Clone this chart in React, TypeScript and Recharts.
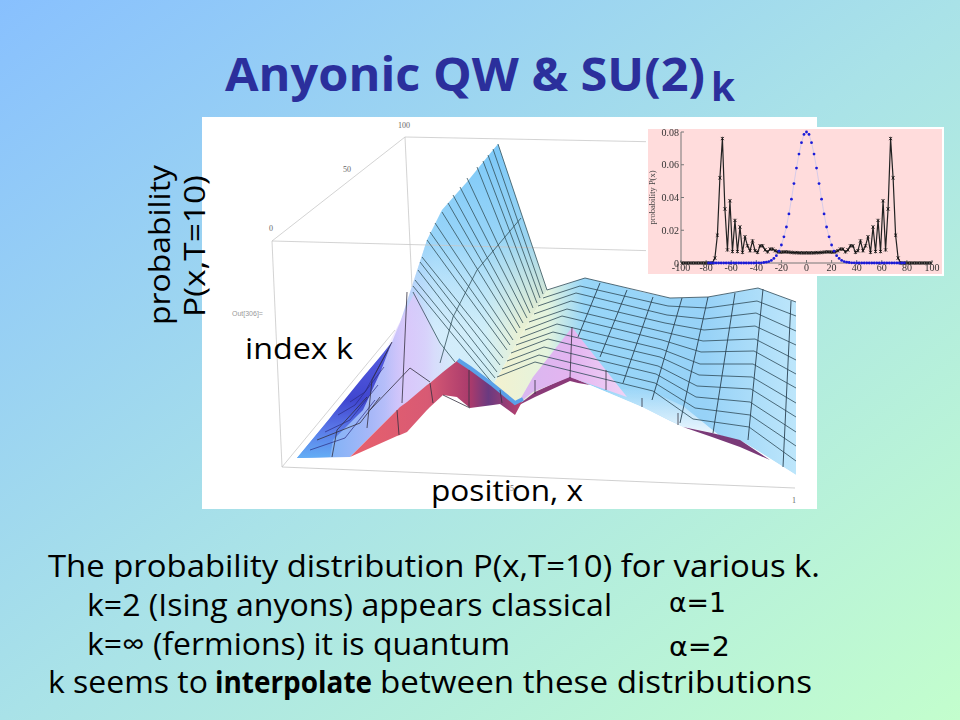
import React from 'react';
import { ComposedChart, LineChart, Area, Line, XAxis, YAxis } from 'recharts';

// inset: P(x) at T=10
const fermionX = [
  -99, -97, -95, -93, -91, -89, -87, -85, -83, -81, -79, -77, -75, -73, -71, -69, -67, -65, -63, -61, -59, -57, -55, -53, -51,
  -49, -47, -45, -43, -41, -39, -37, -35, -33, -31, -29, -27, -25, -23, -21, -19, -17, -15, -13, -11, -9, -7, -5, -3, -1,
  1, 3, 5, 7, 9, 11, 13, 15, 17, 19, 21, 23, 25, 27, 29, 31, 33, 35, 37, 39, 41, 43, 45, 47, 49,
  51, 53, 55, 57, 59, 61, 63, 65, 67, 69, 71, 73, 75, 77, 79, 81, 83, 85, 87, 89, 91, 93, 95, 97, 99,
];
const fermionP = [
  0, 0, 0, 0, 0, 0, 0, 0, 0, 0, 0, 0, 0, 0.003, 0.017, 0.052, 0.076, 0.033, 0.008, 0.038, 0.007, 0.026, 0.007, 0.022, 0.0065,
  0.016, 0.0105, 0.0075, 0.0135, 0.0075, 0.0065, 0.0105, 0.0105, 0.008, 0.0068, 0.0085, 0.0085, 0.0075, 0.0068, 0.0066, 0.0067, 0.0068, 0.0067, 0.0065, 0.0064, 0.0063, 0.0063, 0.0062, 0.0062, 0.0062,
  0.0062, 0.0062, 0.0062, 0.0063, 0.0063, 0.0064, 0.0065, 0.0067, 0.0068, 0.0067, 0.0066, 0.0068, 0.0075, 0.0085, 0.0085, 0.0068, 0.008, 0.0105, 0.0105, 0.0065, 0.0075, 0.0135, 0.0075, 0.0105, 0.016,
  0.0065, 0.022, 0.007, 0.026, 0.007, 0.038, 0.008, 0.033, 0.076, 0.052, 0.017, 0.003, 0, 0, 0, 0, 0, 0, 0, 0, 0, 0, 0, 0, 0,
];
const isingX = [
  -78, -76, -74, -72, -70, -68, -66, -64, -62, -60, -58, -56, -54, -52, -50, -48, -46, -44, -42, -40,
  -38, -36, -34, -32, -30, -28, -26, -24, -22, -20, -18, -16, -14, -12, -10, -8, -6, -4, -2, 0,
  2, 4, 6, 8, 10, 12, 14, 16, 18, 20, 22, 24, 26, 28, 30, 32, 34, 36, 38,
  40, 42, 44, 46, 48, 50, 52, 54, 56, 58, 60, 62, 64, 66, 68, 70, 72, 74, 76, 78,
];
const isingP = [
  0, 0, 0, 0, 0, 0, 0, 0, 0, 0, 0, 0, 0, 0, 0, 0, 0, 0, 0, 0,
  0.0001, 0.0001, 0.0003, 0.0005, 0.0009, 0.0016, 0.0028, 0.0045, 0.0072, 0.011, 0.016, 0.022, 0.03, 0.039, 0.0485, 0.058, 0.0665, 0.0735, 0.0785, 0.08,
  0.0785, 0.0735, 0.0665, 0.058, 0.0485, 0.039, 0.03, 0.022, 0.016, 0.011, 0.0072, 0.0045, 0.0028, 0.0016, 0.0009, 0.0005, 0.0003, 0.0001, 0.0001,
  0, 0, 0, 0, 0, 0, 0, 0, 0, 0, 0, 0, 0, 0, 0, 0, 0, 0, 0, 0,
];
const xTicks = [-100, -80, -60, -40, -20, 0, 20, 40, 60, 80, 100];
const yTicks = [0, 0.02, 0.04, 0.06, 0.08];

// 3d surface, outlines as projected on the picture: x, upper edge, lower edge
const plateauX = [493, 515, 535, 547, 570, 578, 585, 623, 642, 670, 683, 708, 743, 758, 796];
const plateauTop = [385, 346, 311, 290, 283, 280, 278, 287, 292, 298, 298, 297, 291, 288, 302];
const plateauFront = [385, 408, 395, 389, 378, 380, 383, 399, 407, 421, 427, 432, 442, 451, 475];
const maskBottom = [486, 486, 486, 486, 486, 486, 486, 486, 486, 486, 486, 486, 486, 486, 486];

const mountainX = [297, 350, 392, 397, 400, 413, 427, 430, 442, 458, 467, 493, 498, 547];
const mountainTop = [458, 394, 342, 330, 323, 283, 240, 234, 210, 192, 182, 150, 144, 290];
const mountainBase = [458, 457, 415, 410, 408, 398, 385, 383, 374, 362, 368, 385, 376, 290];

const flankX = [297, 330, 333, 363, 380, 392];
const flankTop = [458, 418, 414, 377, 357, 342];
const flankBase = [458, 457, 440, 410, 373, 342];

const faceX = [385, 400, 415, 440, 455];
const faceTop = [350, 322, 292, 345, 362];
const faceBase = [418, 408, 396, 375, 364];

const redX = [350, 397, 400, 407, 427, 430, 443, 457, 458, 470, 493, 500, 515, 523];
const redTop = [457, 410, 407, 402, 385, 383, 372, 361, 360, 368, 385, 391, 403, 400];
const redBase = [457, 436, 435, 432, 410, 407, 395, 397, 398, 408, 405, 404, 415, 400];

const peakX = [517, 533, 570, 572, 578, 627];
const peakTop = [405, 377, 330, 327, 335, 397];
const peakBase = [405, 392, 377, 378, 380, 397];

const peakShadowX = [517, 535, 570, 578, 590];
const peakShadowTop = [406, 392, 376, 380, 385];
const peakShadowBase = [406, 397, 381, 383, 385];

const rimX = [683, 712, 740, 770];
const rimTop = [427, 433, 440, 460];
const rimBase = [427, 437, 447, 460];

const glowX = [606, 640, 683, 720];
const glowTop = [392, 386, 406, 436];
const glowBase = [392, 406, 427, 436];

// mesh lines on the surface
const ridgeMesh = [
  [[498, 144], [547, 290]], [[493, 149], [543, 294]], [[488, 155], [540, 298]], [[483, 161], [537, 303]],
  [[477, 167], [533, 308]], [[467, 178], [530, 313]], [[460, 187], [527, 318]], [[453, 195], [523, 323]],
  [[448, 203], [520, 328]], [[442, 212], [517, 333]], [[435, 223], [513, 340]], [[430, 232], [510, 345]],
  [[427, 240], [507, 350]], [[422, 257], [503, 358]], [[420, 262], [500, 365]], [[418, 270], [497, 372]],
  [[415, 280], [495, 378]], [[413, 286], [493, 384]],
  [[413, 292], [440, 343], [455, 362]],
  [[521, 218], [477, 270], [453, 317], [440, 363]],
];
const flankMesh = [
  [[310, 450], [345, 438], [375, 400]], [[325, 432], [350, 420], [378, 385]],
  [[338, 415], [355, 405], [384, 367]], [[350, 402], [365, 392], [388, 350]],
];
const plateauRows = [
  [[547, 290], [585, 278], [670, 298], [708, 297], [758, 288], [796, 302]],
  [[543, 298], [580, 286], [668, 306], [707, 308], [757, 301], [796, 316]],
  [[538, 306], [576, 293], [667, 315], [705, 319], [756, 313], [796, 331]],
  [[534, 314], [571, 301], [665, 323], [704, 330], [755, 326], [796, 345]],
  [[529, 322], [567, 309], [664, 332], [703, 341], [755, 339], [796, 360]],
  [[525, 330], [562, 316], [662, 340], [701, 352], [754, 351], [796, 374]],
  [[520, 338], [557, 324], [661, 349], [700, 364], [753, 364], [796, 388]],
  [[516, 345], [553, 332], [660, 357], [699, 375], [752, 377], [796, 403]],
  [[511, 353], [548, 339], [658, 366], [697, 386], [751, 389], [796, 417]],
  [[507, 361], [544, 347], [656, 374], [696, 397], [750, 402], [796, 432]],
  [[502, 369], [539, 355], [655, 383], [695, 408], [750, 415], [796, 446]],
  [[497, 377], [535, 362], [653, 391], [693, 419], [749, 427], [796, 461]],
];
const plateauColumns = [
  [[600, 283], [578, 337]], [[627, 290], [600, 357]], [[653, 297], [623, 383]], [[682, 298], [652, 400]],
  [[708, 297], [680, 423]], [[735, 293], [713, 433]], [[763, 289], [748, 440]], [[791, 301], [783, 467]],
];
const frontMesh = [
  [[407, 292], [402, 403]], [[332, 457], [337, 430], [367, 397]], [[367, 428], [372, 380], [392, 342]],
  [[397, 410], [399, 435]], [[430, 383], [433, 403]], [[469, 370], [469, 407]], [[500, 390], [502, 403]],
  [[370, 410], [410, 368], [430, 382]], [[317, 440], [360, 423], [380, 397]], [[443, 395], [470, 408]],
  [[572, 327], [570, 378]], [[535, 380], [535, 394]], [[606, 370], [606, 390]], [[642, 398], [642, 407]], [[678, 413], [678, 425]],
];
const backBox = [
  [[272, 241], [405, 137]], [[405, 137], [817, 145]], [[272, 241], [817, 255]],
  [[272, 241], [282, 467]], [[405, 137], [412, 287]], [[282, 467], [395, 330]],
];
const frontBox = [[[282, 467], [795, 488]]];

const texts = [
  { t: 'Anyonic QW & SU(2)', x: 225, y: 91, len: 480, size: 46, weight: 700, fill: '#2b2f9c' },
  { t: 'k', x: 711, y: 101, len: 24, size: 40, weight: 700, fill: '#2b2f9c' },
  { t: 'index k', x: 245, y: 359, len: 108, size: 29 },
  { t: 'position, x', x: 431, y: 501, len: 152, size: 29 },
  { t: 'The probability distribution P(x,T=10) for various k.', x: 48, y: 577, len: 772, size: 31 },
  { t: 'k=2 (Ising anyons) appears classical', x: 87, y: 616, len: 525, size: 31 },
  { t: 'k=\u221e (fermions) it is quantum', x: 87, y: 655, len: 423, size: 31 },
  { t: 'k seems to', x: 48, y: 693, len: 160, size: 31 },
  { t: 'interpolate', x: 215, y: 693, len: 157, size: 31, weight: 700 },
  { t: 'between these distributions', x: 380, y: 693, len: 432, size: 31 },
];
const alphaTexts = [
  { t: '\u03b1=1', x: 669, y: 612, len: 57 },
  { t: '\u03b1=2', x: 669, y: 656, len: 61 },
];
const tinyTexts = [
  { t: '100', x: 398, y: 128 }, { t: '50', x: 343, y: 172 }, { t: '0', x: 269, y: 231 },
  { t: '5', x: 510, y: 491 }, { t: '1', x: 792, y: 503 },
];

const band = (xs: number[], top: number[], base: number[]) => xs.map((x, i) => ({ x, band: [top[i], base[i]] }));
const path = (pts: number[][]) => pts.map(([x, y]) => ({ x, y }));
const series = (xs: number[], ys: number[]) => xs.map((x, i) => ({ x, p: ys[i] }));

const fermionData = series(fermionX, fermionP);
const isingData = series(isingX, isingP);

function Star(props: any) {
  const { cx, cy, index } = props;
  if (cx == null || cy == null) return null;
  return (
    <path key={index} d={`M${cx - 1.6} ${cy - 1.6}L${cx + 1.6} ${cy + 1.6}M${cx - 1.6} ${cy + 1.6}L${cx + 1.6} ${cy - 1.6}M${cx} ${cy - 1.8}V${cy + 1.8}`}
      stroke="#111" strokeWidth={0.8} fill="none" />
  );
}

function Mesh({ lines, color, width, id }: { lines: number[][][], color: string, width: number, id: string }) {
  return (
    <>
      {lines.map((l, i) => (
        <Line key={id + i} data={path(l)} dataKey="y" stroke={color} strokeWidth={width} dot={false} isAnimationActive={false} />
      ))}
    </>
  );
}

function Surface() {
  return (
    <ComposedChart width={615} height={392} margin={{ top: 0, right: 0, bottom: 0, left: 0 }}>
      <defs>
        <linearGradient id="plateauFill" x1="0" y1="0" x2="1" y2="0">
          <stop offset="0" stopColor="#f3f1cf" />
          <stop offset="0.18" stopColor="#e4f4de" />
          <stop offset="0.3" stopColor="#98d6f8" />
          <stop offset="0.7" stopColor="#97d2f7" />
          <stop offset="1" stopColor="#bde6fb" />
        </linearGradient>
        <linearGradient id="mountainFill" x1="0" y1="0" x2="1" y2="0">
          <stop offset="0" stopColor="#5b9cf3" />
          <stop offset="0.12" stopColor="#7fb2f6" />
          <stop offset="0.3" stopColor="#a8b8f8" />
          <stop offset="0.42" stopColor="#c9c6fb" />
          <stop offset="0.55" stopColor="#d4ecfc" />
          <stop offset="0.75" stopColor="#d0eef8" />
          <stop offset="0.9" stopColor="#ebf1d2" />
          <stop offset="1" stopColor="#f3efc4" />
        </linearGradient>
        <linearGradient id="mountainSky" x1="0" y1="0" x2="0" y2="1">
          <stop offset="0" stopColor="#7cc8f8" stopOpacity={1} />
          <stop offset="0.3" stopColor="#8dd0f8" stopOpacity={0.85} />
          <stop offset="0.6" stopColor="#a8dcf8" stopOpacity={0} />
        </linearGradient>
        <linearGradient id="faceFill" x1="0" y1="0" x2="1" y2="0">
          <stop offset="0" stopColor="#cfc0fa" stopOpacity={0} />
          <stop offset="0.3" stopColor="#dcc8fa" stopOpacity={0.85} />
          <stop offset="0.6" stopColor="#dcc8fa" stopOpacity={0.6} />
          <stop offset="1" stopColor="#dcc8fa" stopOpacity={0} />
        </linearGradient>
        <linearGradient id="flankFill" x1="0" y1="0" x2="0" y2="1">
          <stop offset="0" stopColor="#5860e0" />
          <stop offset="0.5" stopColor="#4046d0" />
          <stop offset="0.75" stopColor="#5a78e8" />
          <stop offset="1" stopColor="#64aef5" />
        </linearGradient>
        <linearGradient id="glowFill" x1="0" y1="0" x2="0" y2="1">
          <stop offset="0" stopColor="#ffffff" stopOpacity={0} />
          <stop offset="1" stopColor="#ffffff" stopOpacity={0.85} />
        </linearGradient>
        <linearGradient id="redFill" x1="0" y1="0" x2="1" y2="0">
          <stop offset="0" stopColor="#e8606c" />
          <stop offset="0.45" stopColor="#d85a74" />
          <stop offset="0.7" stopColor="#a83a6c" />
          <stop offset="0.8" stopColor="#6a3a80" />
          <stop offset="1" stopColor="#c0406c" />
        </linearGradient>
        <linearGradient id="peakFill" x1="0" y1="0" x2="1" y2="0">
          <stop offset="0" stopColor="#d8b8f0" />
          <stop offset="0.5" stopColor="#e4b4f0" />
          <stop offset="1" stopColor="#f0d4f6" />
        </linearGradient>
      </defs>
      <XAxis type="number" dataKey="x" domain={[202, 817]} hide allowDataOverflow />
      <YAxis type="number" domain={[117, 509]} reversed hide allowDataOverflow />

      <Mesh lines={backBox} color="#c8c8c8" width={0.8} id="back" />

      <Area data={band(plateauX, plateauTop, plateauFront)} dataKey="band" fill="url(#plateauFill)" fillOpacity={1} stroke="none" isAnimationActive={false} />
      <Mesh lines={plateauRows} color="#2f4a58" width={0.8} id="row" />
      <Mesh lines={plateauColumns} color="#2a4252" width={0.9} id="col" />
      <Area data={band(glowX, glowTop, glowBase)} dataKey="band" fill="url(#glowFill)" fillOpacity={1} stroke="none" isAnimationActive={false} />
      <Area data={band(plateauX, plateauFront, maskBottom)} dataKey="band" fill="#ffffff" fillOpacity={1} stroke="none" isAnimationActive={false} />
      <Area data={band(rimX, rimTop, rimBase)} dataKey="band" fill="#7a3a78" fillOpacity={1} stroke="none" isAnimationActive={false} />

      <Area data={band(peakShadowX, peakShadowTop, peakShadowBase)} dataKey="band" fill="#8a3a78" fillOpacity={1} stroke="none" isAnimationActive={false} />
      <Area data={band(peakX, peakTop, peakBase)} dataKey="band" fill="url(#peakFill)" fillOpacity={1} stroke="none" isAnimationActive={false} />

      <Area data={band(mountainX, mountainTop, mountainBase)} dataKey="band" fill="url(#mountainFill)" fillOpacity={1} stroke="none" isAnimationActive={false} />
      <Area data={band(mountainX, mountainTop, mountainBase)} dataKey="band" fill="url(#mountainSky)" fillOpacity={1} stroke="none" isAnimationActive={false} />
      <Area data={band(faceX, faceTop, faceBase)} dataKey="band" fill="url(#faceFill)" fillOpacity={1} stroke="none" isAnimationActive={false} />
      <Area data={band(flankX, flankTop, flankBase)} dataKey="band" fill="url(#flankFill)" fillOpacity={1} stroke="none" isAnimationActive={false} />
      <Mesh lines={flankMesh} color="#2a2a80" width={0.7} id="flank" />
      <Mesh lines={ridgeMesh} color="#33505a" width={0.8} id="ridge" />

      <Area data={band(redX, redTop, redBase)} dataKey="band" fill="url(#redFill)" fillOpacity={1} stroke="none" isAnimationActive={false} />
      <Line data={path([[458, 360], [470, 368], [493, 385], [515, 403], [523, 399]])} dataKey="y" stroke="#5aa0e8" strokeWidth={4} dot={false} isAnimationActive={false} />
      <Mesh lines={frontMesh} color="#33303f" width={0.8} id="front" />
      <Mesh lines={frontBox} color="#c4c4c4" width={0.8} id="frontBox" />
    </ComposedChart>
  );
}

function Inset() {
  const axisStyle = { fontFamily: 'Liberation Serif', fontSize: 10, fill: '#333' };
  return (
    <LineChart width={294} height={149} margin={{ top: 7, right: 10, bottom: 0, left: 0 }}>
      <XAxis type="number" dataKey="x" domain={[-100, 100]} ticks={xTicks} interval={0} height={11}
        tick={axisStyle} tickSize={-3} tickMargin={4} stroke="#777" />
      <XAxis xAxisId="frame" orientation="top" type="number" domain={[-100, 100]} ticks={xTicks} interval={0} height={0}
        tickFormatter={() => ''} tickSize={-3} stroke="#777" />
      <YAxis type="number" domain={[0, 0.08]} ticks={yTicks} interval={0} width={33}
        tick={axisStyle} tickSize={-3} tickMargin={5} stroke="#777"
        label={{ value: 'probability P(x)', angle: -90, position: 'insideLeft', offset: 0, dx: 4, style: { fontFamily: 'Liberation Serif', fontSize: 8.5, fill: '#444', textAnchor: 'middle' } }} />
      <YAxis yAxisId="frame" orientation="right" type="number" domain={[0, 0.08]} ticks={yTicks} interval={0} width={0}
        tickFormatter={() => ''} tickSize={-3} stroke="#777" />
      <Line data={fermionData} dataKey="p" stroke="#222" strokeWidth={1.2} dot={Star} isAnimationActive={false} />
      <Line data={isingData} dataKey="p" stroke="#c4c4ee" strokeWidth={0.7}
        dot={{ r: 1.4, fill: '#1a1ad8', stroke: 'none' }} isAnimationActive={false} />
    </LineChart>
  );
}

export default function App() {
  return (
    <div style={{
      position: 'absolute', left: 0, top: 0, width: 960, height: 720, overflow: 'hidden',
      background: 'linear-gradient(to bottom right, #88c0fe 0%, #a9e2e8 50%, #c3fecd 100%)',
    }}>
      <div style={{ position: 'absolute', left: 202, top: 117, width: 615, height: 392, background: '#fff' }}>
        <Surface />
      </div>
      <svg width={960} height={720} style={{ position: 'absolute', left: 0, top: 0 }}>
        {tinyTexts.map((d) => (
          <text key={d.t} x={d.x} y={d.y} fontFamily="Liberation Serif" fontSize={8} fill="#666">{d.t}</text>
        ))}
        <text x={232} y={316} fontFamily="Liberation Sans" fontSize={7} fill="#999">Out[306]=</text>
        {texts.map((d) => (
          <text key={d.t} x={d.x} y={d.y} fontFamily="Open Sans" fontSize={d.size} fontWeight={d.weight ?? 400}
            fill={d.fill ?? '#000'} textLength={d.len} lengthAdjust="spacingAndGlyphs">{d.t}</text>
        ))}
        {alphaTexts.map((d) => (
          <text key={d.t} x={d.x} y={d.y} fontFamily="DejaVu Sans" fontSize={27} textLength={d.len} lengthAdjust="spacingAndGlyphs">{d.t}</text>
        ))}
        <text transform="translate(170,325) rotate(-90)" fontFamily="Open Sans" fontSize={29} textLength={160} lengthAdjust="spacingAndGlyphs">probability</text>
        <text transform="translate(205,317) rotate(-90)" fontFamily="Open Sans" fontSize={29} textLength={142} lengthAdjust="spacingAndGlyphs">P(x,T=10)</text>
      </svg>
      <div style={{ position: 'absolute', left: 648, top: 129, width: 294, height: 145, background: '#ffdcdc', outline: '2px solid #fff', filter: 'blur(0.4px)' }}>
        <div style={{ position: 'absolute', left: 0, top: -4 }}>
          <Inset />
        </div>
      </div>
    </div>
  );
}
